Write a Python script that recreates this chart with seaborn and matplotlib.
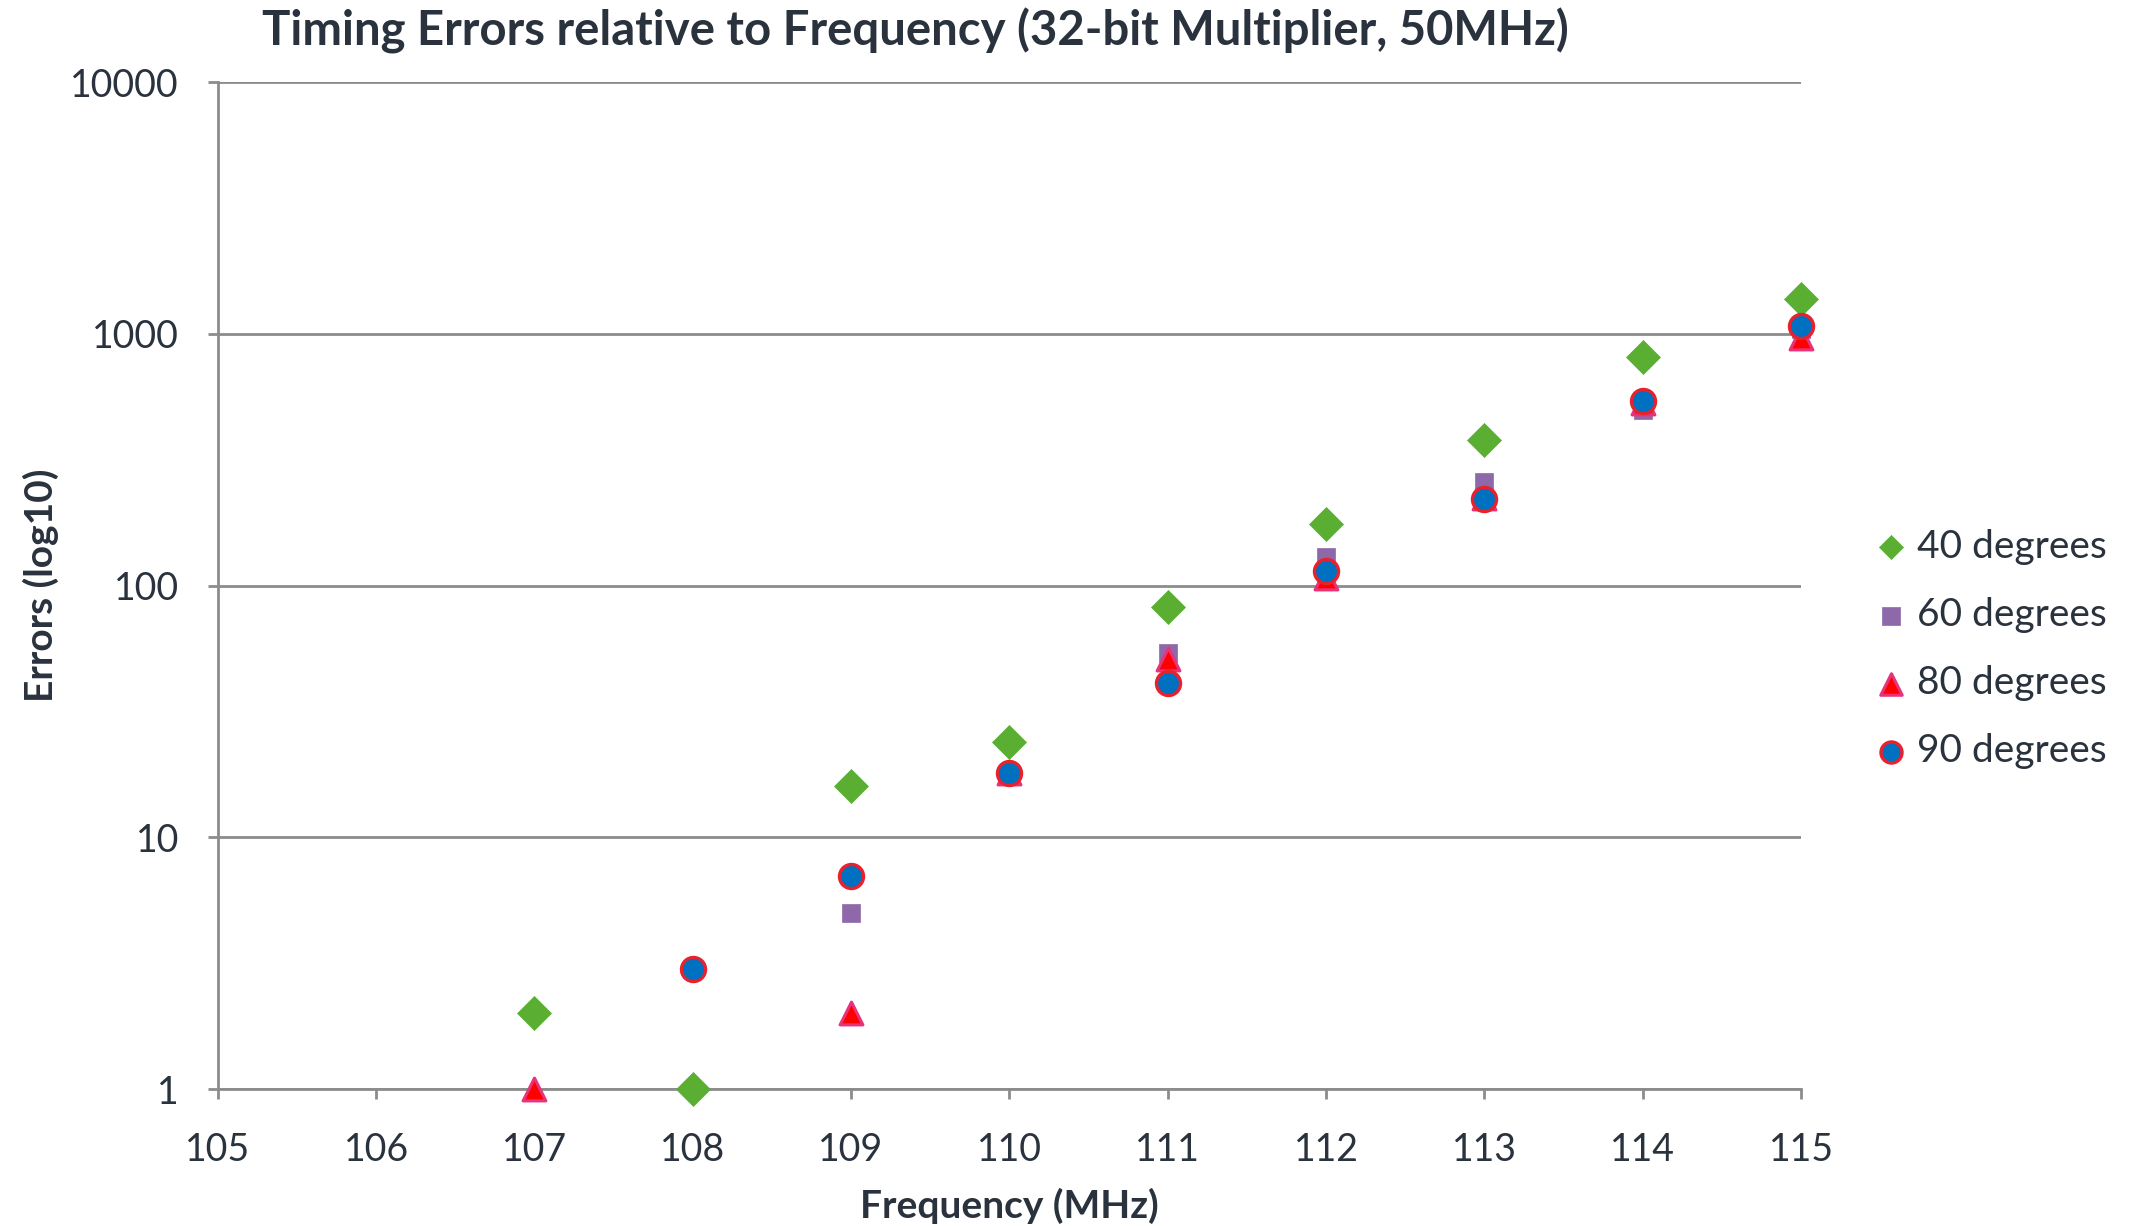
import numpy as np
import pandas as pd
import matplotlib
matplotlib.use("Agg")
import matplotlib.pyplot as plt
import seaborn as sns

# ---- data ----
freq = [107, 108, 109, 110, 111, 112, 113, 114, 115]
deg40 = [2, 1, 16, 24, 82, 175, 380, 810, 1380]
deg60 = [np.nan, 3, 5, 18, 54, 130, 257, 500, 1050]
deg80 = [1, np.nan, 2, 18, 51, 107, 222, 530, 960]
deg90 = [np.nan, 3, 7, 18, 41, 114, 220, 541, 1070]
series_names = ["40 degrees", "60 degrees", "80 degrees", "90 degrees"]
x_ticks = [105, 106, 107, 108, 109, 110, 111, 112, 113, 114, 115]
y_ticks = [1, 10, 100, 1000, 10000]
y_tick_labels = ["1", "10", "100", "1000", "10000"]

title = "Timing Errors relative to Frequency (32-bit Multiplier, 50MHz)"
xlabel = "Frequency (MHz)"
ylabel = "Errors (log10)"

sns.set_theme(style="white")
plt.rcParams["font.family"] = ["Lato", "DejaVu Sans"]

TEXT = "#29323d"
AXIS = "#8c8c8c"

fig = plt.figure(figsize=(21.35, 12.26), dpi=100)
ax = fig.add_axes([0.102, 0.1117, 0.8436 - 0.102, 0.933 - 0.1117])

styles = [
    dict(marker="D", color="#5aaf32", edgecolor="#5aaf32", s=300, linewidth=0.5),
    dict(marker="s", color="#8e69a9", edgecolor="#8e69a9", s=170, linewidth=0.5),
    dict(marker="^", color="#ff0000", edgecolor="#e8337a", s=270, linewidth=2.2),
    dict(marker="o", color="#0070c0", edgecolor="#e8212e", s=300, linewidth=2.4),
]
legend_sizes = [150, 170, 240, 230]
data = [deg40, deg60, deg80, deg90]
for name, vals, st in zip(series_names, data, styles):
    df = pd.DataFrame({"f": freq, "v": vals}).dropna()
    sns.scatterplot(data=df, x="f", y="v", ax=ax, label=name, zorder=3,
                    clip_on=False, **st)

ax.set_yscale("log")
ax.set_ylim(1, 10000)
ax.set_xlim(105, 115)
ax.set_yticks(y_ticks)
ax.set_yticklabels(y_tick_labels)
ax.yaxis.set_minor_locator(matplotlib.ticker.NullLocator())
ax.set_xticks(x_ticks)
ax.set_xticklabels([str(t) for t in x_ticks])

ax.grid(axis="y", color=AXIS, linewidth=2.0)
ax.grid(axis="x", visible=False)
for side in ["top", "right"]:
    ax.spines[side].set_visible(False)
for side in ["left", "bottom"]:
    ax.spines[side].set_color(AXIS)
    ax.spines[side].set_linewidth(2.0)
ax.set_axisbelow(True)

ax.tick_params(axis="both", which="major", direction="out", length=7, width=2.0,
               color=AXIS, labelsize=27, labelcolor=TEXT)
ax.tick_params(axis="y", pad=21, left=True)
ax.tick_params(axis="x", pad=24, bottom=True)

ax.set_xlabel(xlabel, fontsize=28, fontweight="bold", color=TEXT, labelpad=14)
ax.set_ylabel(ylabel, fontsize=28, fontweight="bold", color=TEXT, labelpad=8)
fig.text(0.4286, 0.975, title, ha="center", va="center", fontsize=34,
         fontweight="bold", color=TEXT)

leg = ax.legend(loc="center left", bbox_to_anchor=(0.877, 0.4706),
                bbox_transform=fig.transFigure, frameon=False, fontsize=28,
                handlelength=0.95, handletextpad=0.2, labelspacing=0.83,
                borderpad=0, borderaxespad=0, labelcolor=TEXT)
for h, sz in zip(leg.legend_handles, legend_sizes):
    h.set_sizes([sz])

fig.savefig("out.png", dpi=100)
